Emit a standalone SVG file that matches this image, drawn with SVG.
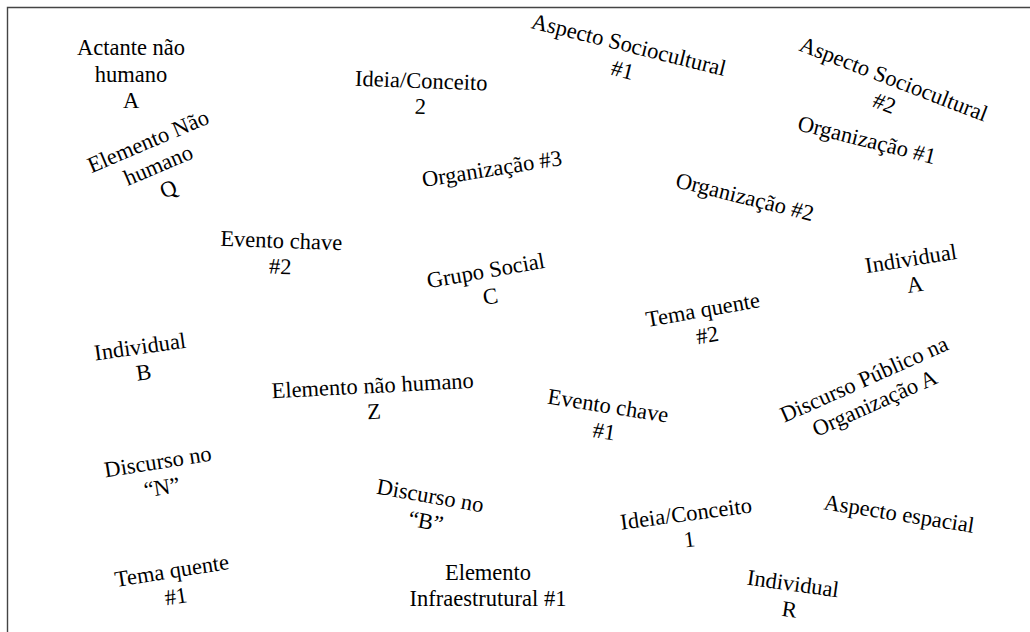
<svg xmlns="http://www.w3.org/2000/svg" width="1030" height="632" viewBox="0 0 1030 632">
<style>
text{font-family:"Liberation Serif","Times New Roman",serif;font-size:22.5px;fill:#000;text-anchor:middle}
.frame{fill:none;stroke:#444;stroke-width:1.4}
</style>
<rect width="1030" height="632" fill="#fff"/>
<path class="frame" d="M7.5 632 V7.5 H1030"/>
<g id="connectors"></g>
<g id="n1" transform="translate(131,55)"><text><tspan x="0" y="0">Actante não</tspan><tspan x="0" y="26.5">humano</tspan><tspan x="0" y="53">A</tspan></text></g>
<g id="n2" transform="translate(151,148) rotate(-23)"><text><tspan x="0" y="0">Elemento Não</tspan><tspan x="0" y="26">humano</tspan><tspan x="0" y="52">Q</tspan></text></g>
<g id="n3" transform="translate(421,88) rotate(2)"><text><tspan x="0" y="0">Ideia/Conceito</tspan><tspan x="0" y="26">2</tspan></text></g>
<g id="n4" transform="translate(493,176) rotate(-9)"><text><tspan x="0" y="0">Organização #3</tspan></text></g>
<g id="n5" transform="translate(627,52) rotate(14)"><text><tspan x="0" y="0">Aspecto Sociocultural</tspan><tspan x="0" y="26">#1</tspan></text></g>
<g id="n6" transform="translate(891,86) rotate(21)"><text><tspan x="0" y="0">Aspecto Sociocultural</tspan><tspan x="0" y="26">#2</tspan></text></g>
<g id="n7" transform="translate(865,147) rotate(14)"><text><tspan x="0" y="0">Organização #1</tspan></text></g>
<g id="n8" transform="translate(743,204) rotate(14)"><text><tspan x="0" y="0">Organização #2</tspan></text></g>
<g id="n9" transform="translate(281,248) rotate(2)"><text><tspan x="0" y="0">Evento chave</tspan><tspan x="0" y="26">#2</tspan></text></g>
<g id="n10" transform="translate(487,278) rotate(-10)"><text><tspan x="0" y="0">Grupo Social</tspan><tspan x="0" y="26">C</tspan></text></g>
<g id="n11" transform="translate(704,317) rotate(-10)"><text><tspan x="0" y="0">Tema quente</tspan><tspan x="0" y="26">#2</tspan></text></g>
<g id="n12" transform="translate(912,266) rotate(-9)"><text><tspan x="0" y="0">Individual</tspan><tspan x="0" y="26">A</tspan></text></g>
<g id="n13" transform="translate(141,354) rotate(-8)"><text><tspan x="0" y="0">Individual</tspan><tspan x="0" y="26">B</tspan></text></g>
<g id="n14" transform="translate(373,393) rotate(-3)"><text><tspan x="0" y="0">Elemento não humano</tspan><tspan x="0" y="26">Z</tspan></text></g>
<g id="n15" transform="translate(607,413) rotate(9)"><text><tspan x="0" y="0">Evento chave</tspan><tspan x="0" y="26">#1</tspan></text></g>
<g id="n16" transform="translate(867,386) rotate(-24)"><text><tspan x="0" y="0">Discurso Público na</tspan><tspan x="0" y="26">Organização A</tspan></text></g>
<g id="n17" transform="translate(898,521) rotate(9)"><text><tspan x="0" y="0">Aspecto espacial</tspan></text></g>
<g id="n18" transform="translate(792,591) rotate(8)"><text><tspan x="0" y="0">Individual</tspan><tspan x="0" y="26">R</tspan></text></g>
<g id="n19" transform="translate(687,521) rotate(-7.5)"><text><tspan x="0" y="0">Ideia/Conceito</tspan><tspan x="0" y="26">1</tspan></text></g>
<g id="n20" transform="translate(159,469) rotate(-9)"><text><tspan x="0" y="0">Discurso no</tspan><tspan x="0" y="26">“N”</tspan></text></g>
<g id="n21" transform="translate(429,503) rotate(10)"><text><tspan x="0" y="0">Discurso no</tspan><tspan x="0" y="26">“B”</tspan></text></g>
<g id="n22" transform="translate(173,578) rotate(-9)"><text><tspan x="0" y="0">Tema quente</tspan><tspan x="0" y="26">#1</tspan></text></g>
<g id="n23" transform="translate(488,580)"><text><tspan x="0" y="0">Elemento</tspan><tspan x="0" y="26">Infraestrutural #1</tspan></text></g>
</svg>
